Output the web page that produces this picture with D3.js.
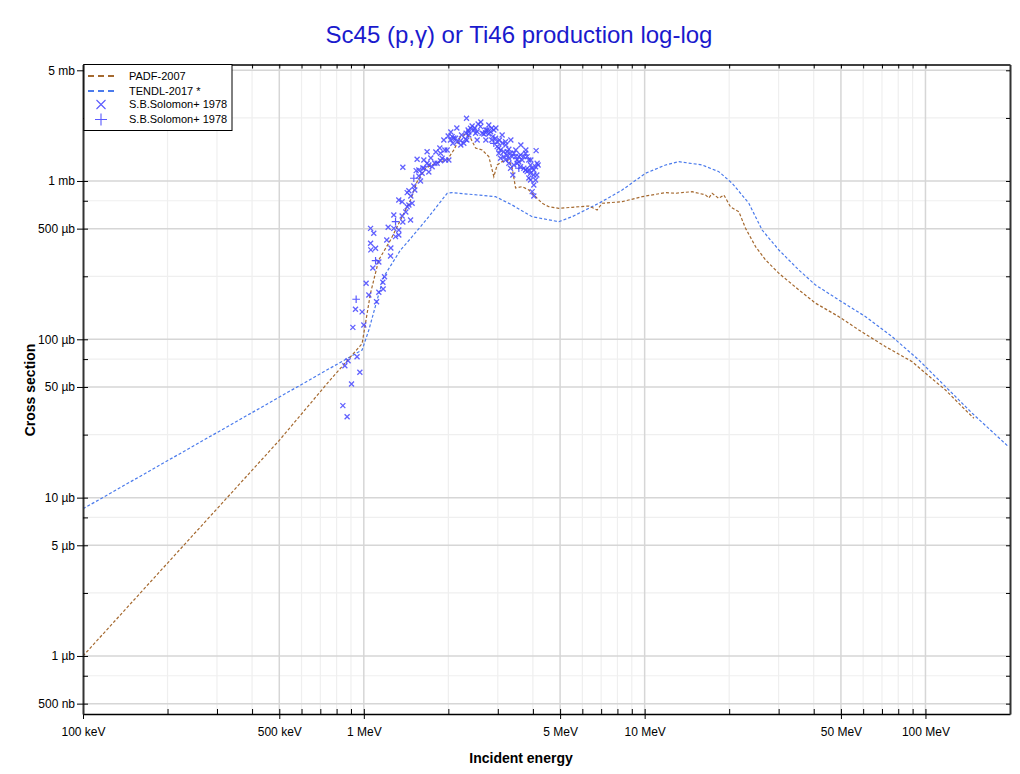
<!DOCTYPE html>
<html><head><meta charset="utf-8">
<script src="https://cdn.jsdelivr.net/npm/d3@7"></script>
<style>
body{margin:0;background:#fff}
svg{display:block}
text{font-family:"Liberation Sans",Arial,Helvetica,sans-serif}
</style>
</head><body>
<svg id="chart" width="1020" height="774"></svg>
<script>
// ---- data (energy in MeV, cross section in mb) ----
const padf = [[0.1,0.001],[0.5,0.023],[0.75,0.054],[0.986,0.094],[1.056,0.195],[1.13,0.317],[1.245,0.424],[1.351,0.567],[1.467,0.759],[1.548,0.99],[1.659,1.203],[1.80,1.293],[1.98,1.357],[2.092,1.57],[2.21,1.905],[2.302,1.981],[2.399,1.869],[2.499,1.616],[2.638,1.57],[2.787,1.424],[2.904,1.065],[2.984,1.262],[3.108,1.324],[3.284,1.357],[3.375,1.208],[3.47,0.903],[3.662,0.921],[3.869,0.877],[4.031,0.816],[4.315,0.723],[4.559,0.688],[4.947,0.672],[5.518,0.682],[6.327,0.695],[6.773,0.656],[7.058,0.723],[8.317,0.74],[9.797,0.796],[11.87,0.844],[12.88,0.836],[14.76,0.856],[16.48,0.816],[16.93,0.781],[17.39,0.836],[18.37,0.777],[19.15,0.816],[20.23,0.685],[21.65,0.64],[22.87,0.503],[24.83,0.385],[26.96,0.317],[30.07,0.261],[35.41,0.205],[40.61,0.169],[49.16,0.139],[57.92,0.1145],[72.1,0.0898],[89.7,0.0722],[100.1,0.061],[117.9,0.0478],[135.1,0.0375],[148.7,0.0317]];
const tendl = [[0.1,0.0085],[0.986,0.0856],[1.042,0.1145],[1.115,0.177],[1.178,0.2486],[1.351,0.3665],[1.486,0.4446],[1.704,0.595],[1.98,0.836],[2.063,0.844],[2.944,0.796],[3.375,0.705],[3.976,0.595],[4.947,0.553],[5.518,0.595],[6.87,0.723],[8.317,0.877],[10.07,1.118],[11.87,1.262],[13.24,1.324],[16.03,1.262],[18.37,1.145],[20.5,0.967],[23.5,0.723],[26.2,0.49],[30.06,0.3665],[35.4,0.274],[40.6,0.2203],[49.2,0.177],[61.2,0.139],[76.1,0.1038],[94.7,0.074],[117.9,0.0502],[146.7,0.0341],[198,0.0209]];
const solomonX = [[1.019,0.226],[1.042,0.1905],[0.986,0.149],[0.934,0.1547],[0.914,0.119],[1.0,0.123],[1.185,0.2486],[1.169,0.229],[1.131,0.198],[1.172,0.208],[1.11,0.1728],[0.856,0.0681],[0.879,0.0732],[0.946,0.0776],[0.968,0.0619],[0.904,0.0522],[0.842,0.0381],[0.872,0.0324],
[1.057,0.502],[1.085,0.467],[1.057,0.404],[1.101,0.376],[1.245,0.336],[1.221,0.51],[1.279,0.502],[1.332,0.49],[1.297,0.445],[1.332,0.456],[1.369,0.601],[1.427,0.688],[1.467,0.567],[1.486,0.723],[1.369,0.74],[1.427,0.844],[1.447,0.868],[1.519,0.877],[1.536,1.162],[1.57,1.173],[1.613,1.118],[1.592,1.0],[1.636,1.203],[1.68,1.293],[1.636,1.357],[1.548,1.371],[1.68,1.531],[1.377,1.22],[1.704,1.262],[1.751,1.231],[1.79,1.293],[1.824,1.293],[1.876,1.343],[1.9,1.391],[1.876,1.496],[1.943,1.57],[1.954,1.357],[2.008,1.357],[1.997,1.924],[2.036,1.816],[2.075,1.73],[2.063,1.905],[2.121,1.861],[2.149,1.771],[2.21,1.797],[2.228,1.953],[2.27,1.73],[2.302,1.834],[2.313,2.001],[2.351,2.1],[2.365,1.953],[2.399,2.152],[2.43,2.225],[2.321,2.489],[2.465,2.1],[2.499,2.001],[2.532,2.048],[2.553,2.291],[2.604,2.203],[2.638,2.001],[2.675,1.981],[2.713,2.019],[2.749,2.1],[2.787,1.981],[2.827,2.048],[2.85,2.152],[2.904,2.1],[2.88,1.905],[2.944,1.861],[2.984,1.771],[3.043,1.816],[2.984,1.647],[3.068,1.57],[3.108,1.73],[3.196,1.771],[3.152,1.531],[3.238,1.531],[3.284,1.586],[3.33,1.496],[3.375,1.424],[3.422,1.496],[3.47,1.424],[3.516,1.357],[3.565,1.424],[3.614,1.459],[3.662,1.357],[3.714,1.424],[3.766,1.496],[3.815,1.424],[3.869,1.357],[3.924,1.262],[3.976,1.203],[4.031,1.173],[4.088,1.231],[4.141,1.293],[4.175,1.262],[4.107,1.554],[3.869,1.173],[3.924,1.118],[4.031,1.091],[3.924,1.015],[4.088,1.015],[3.976,0.856],[4.031,0.804],[3.33,1.203],[3.284,1.293],[3.422,1.262],[3.516,1.293],[3.614,1.231],[3.714,1.203],[3.766,1.173],[3.815,1.145],[3.068,1.391],[3.025,1.496],[3.152,1.424],[3.196,1.357],[3.284,1.391],
[1.377,0.551],[1.411,0.637],[1.47,0.804],[1.507,0.93],[1.57,1.076],[1.622,1.208],[1.732,1.397],[1.805,1.525],[1.865,1.616],[1.927,1.816],[2.041,2.04],[2.144,2.162],[2.215,1.688],[2.327,1.816],[2.485,2.162],[2.532,1.816],[2.61,2.359],[2.72,1.816],[2.787,2.259],[2.856,1.816],[2.953,2.162],[3.025,1.616],[3.108,1.953],[3.204,1.688],[3.338,1.816],[3.477,1.57],[3.565,1.318],[3.775,1.57],[3.933,1.357],[4.031,0.943],[4.131,1.091],[3.869,1.045],[3.775,1.173],[3.394,1.091],[3.231,1.459],[3.624,1.688],[2.72,2.10],[2.365,2.04],[2.092,1.869],[1.98,1.57],[1.704,1.14],[1.447,0.705],[1.332,0.759],[1.279,0.61],[1.207,0.424],[1.248,0.377],[1.131,0.308],[1.077,0.282],[1.059,0.367]];
const solomonPlus = [[0.939,0.179],[1.101,0.3136],[1.297,0.553],[1.507,1.04],[2.904,1.73],[3.565,1.203]];
const xMajorTicks = [0.1,0.5,1,5,10,50,100];
const xTickLabels = ["100 keV","500 keV","1 MeV","5 MeV","10 MeV","50 MeV","100 MeV"];
const xMinorTicks = [0.2,0.3,0.4,0.6,0.7,0.8,0.9,2,3,4,6,7,8,9,20,30,40,60,70,80,90];
const yMajorTicks = [0.0005,0.001,0.005,0.01,0.05,0.1,0.5,1,5];
const yTickLabels = ["500 nb","1 µb","5 µb","10 µb","50 µb","100 µb","500 µb","1 mb","5 mb"];
const yMinorTicks = [0.00075,0.0025,0.0075,0.025,0.075,0.25,0.75,2.5];
const legendLabels = ["PADF-2007","TENDL-2017 *","S.B.Solomon+ 1978","S.B.Solomon+ 1978"];

// ---- layout ----
const L=83, R=1010, T=64.5, B=714;
const cBrown="#a5692f", cBlue="#4b7bec", cMark="#4646ff";
const svg = d3.select("#chart");
const x = d3.scaleLog().domain([0.1,200]).range([L,R]);
const y = d3.scaleLog().domain([0.00043,5.44]).range([B,T]);

// grid
const grid = svg.append("g");
grid.selectAll(".gxm").data(xMinorTicks).join("line")
  .attr("x1",d=>x(d)).attr("x2",d=>x(d)).attr("y1",T).attr("y2",B)
  .attr("stroke","#efefef").attr("stroke-width",1.2);
grid.selectAll(".gym").data(yMinorTicks).join("line")
  .attr("y1",d=>y(d)).attr("y2",d=>y(d)).attr("x1",L).attr("x2",R)
  .attr("stroke","#efefef").attr("stroke-width",1.2);
grid.selectAll(".gxM").data(xMajorTicks.slice(1)).join("line")
  .attr("x1",d=>x(d)).attr("x2",d=>x(d)).attr("y1",T).attr("y2",B)
  .attr("stroke","#d6d6d6").attr("stroke-width",1.5);
grid.selectAll(".gyM").data(yMajorTicks).join("line")
  .attr("y1",d=>y(d)).attr("y2",d=>y(d)).attr("x1",L).attr("x2",R)
  .attr("stroke","#d6d6d6").attr("stroke-width",1.5);

// clip
svg.append("clipPath").attr("id","clip").append("rect")
  .attr("x",L).attr("y",T).attr("width",R-L).attr("height",B-T);
const plot = svg.append("g").attr("clip-path","url(#clip)");
const line = d3.line().x(d=>x(d[0])).y(d=>y(d[1]));
plot.append("path").datum(tendl).attr("d",line).attr("fill","none")
  .attr("stroke",cBlue).attr("stroke-width",1.2).attr("stroke-dasharray","3,2");
plot.append("path").datum(padf).attr("d",line).attr("fill","none")
  .attr("stroke",cBrown).attr("stroke-width",1.2).attr("stroke-dasharray","3,2");

// markers
const sx=2.5;
plot.selectAll(".mx").data(solomonX).join("path")
  .attr("transform",d=>`translate(${x(d[0])},${y(d[1])})`)
  .attr("d",`M${-sx},${-sx}L${sx},${sx}M${-sx},${sx}L${sx},${-sx}`)
  .attr("stroke",cMark).attr("stroke-width",1.3).attr("fill","none").attr("opacity",0.85);
const sp=3.8;
plot.selectAll(".mp").data(solomonPlus).join("path")
  .attr("transform",d=>`translate(${x(d[0])},${y(d[1])})`)
  .attr("d",`M${-sp},0L${sp},0M0,${-sp}L0,${sp}`)
  .attr("stroke",cMark).attr("stroke-width",1.2).attr("fill","none").attr("opacity",0.9);

// axes
const fs="12px";
const axB = svg.append("g").attr("transform",`translate(0,${B})`)
  .call(d3.axisBottom(x).tickValues(xMajorTicks).tickFormat((d,i)=>xTickLabels[i]).tickSizeInner(5).tickSizeOuter(0).tickPadding(8));
axB.select(".domain").attr("stroke","#000").attr("stroke-width",1.6);
axB.selectAll("text").attr("font-size",fs).attr("fill","#000").style("font-family","'Liberation Sans',Arial,sans-serif");
svg.append("g").attr("transform",`translate(0,${B})`)
  .call(d3.axisTop(x).tickValues(xMajorTicks.concat(xMinorTicks)).tickSize(5).tickFormat(""))
  .call(g=>g.select(".domain").remove());

const axT = svg.append("g").attr("transform",`translate(0,${T})`)
  .call(d3.axisBottom(x).tickValues(xMajorTicks.concat(xMinorTicks)).tickSizeInner(4).tickSizeOuter(0).tickFormat(""));
axT.select(".domain").attr("stroke","#000").attr("stroke-width",1.3);

const axL = svg.append("g").attr("transform",`translate(${L},0)`)
  .call(d3.axisLeft(y).tickValues(yMajorTicks).tickFormat((d,i)=>yTickLabels[i]).tickSizeInner(6).tickSizeOuter(0).tickPadding(2));
axL.select(".domain").attr("stroke","#333").attr("stroke-width",2);
axL.selectAll("text").attr("font-size",fs).attr("fill","#000").style("font-family","'Liberation Sans',Arial,sans-serif");
svg.append("g").attr("transform",`translate(${L},0)`)
  .call(d3.axisRight(y).tickValues(yMajorTicks.concat(yMinorTicks)).tickSize(5).tickFormat(""))
  .call(g=>g.select(".domain").remove());

const axR = svg.append("g").attr("transform",`translate(${R},0)`)
  .call(d3.axisLeft(y).tickValues(yMajorTicks.concat(yMinorTicks)).tickSizeInner(4).tickSizeOuter(0).tickFormat(""));
axR.select(".domain").attr("stroke","#333").attr("stroke-width",2);

// titles
svg.append("text").attr("x",519).attr("y",43).attr("text-anchor","middle")
  .attr("font-size","24px").attr("fill","#1a1acd").text("Sc45 (p,γ) or Ti46 production log-log");
svg.append("text").attr("x",521).attr("y",763).attr("text-anchor","middle")
  .attr("font-size","14px").attr("font-weight","bold").text("Incident energy");
svg.append("text").attr("transform","translate(35,390) rotate(-90)").attr("text-anchor","middle")
  .attr("font-size","14px").attr("font-weight","bold").text("Cross section");

// legend
const lg = svg.append("g");
lg.append("rect").attr("x",84).attr("y",64.5).attr("width",148).attr("height",66)
  .attr("fill","#fff").attr("stroke","#000").attr("stroke-width",1);
const rows=[76,91,104.5,119.5];
lg.append("line").attr("x1",88).attr("x2",116).attr("y1",rows[0]).attr("y2",rows[0])
  .attr("stroke",cBrown).attr("stroke-width",2).attr("stroke-dasharray","6,4");
lg.append("line").attr("x1",88).attr("x2",116).attr("y1",rows[1]).attr("y2",rows[1])
  .attr("stroke",cBlue).attr("stroke-width",2).attr("stroke-dasharray","6,4");
lg.append("path").attr("transform",`translate(101,${rows[2]})`)
  .attr("d","M-4.5,-4.5L4.5,4.5M-4.5,4.5L4.5,-4.5").attr("stroke","#5a5aff").attr("stroke-width",1.1);
lg.append("path").attr("transform",`translate(101,${rows[3]})`)
  .attr("d","M-6,0L6,0M0,-6L0,6").attr("stroke","#5a5aff").attr("stroke-width",1.1);
lg.selectAll(".lt").data(legendLabels).join("text")
  .attr("x",129).attr("y",(d,i)=>rows[i]).attr("dy","0.35em")
  .attr("font-size","11px").attr("fill","#000").text(d=>d);
</script>
</body></html>
